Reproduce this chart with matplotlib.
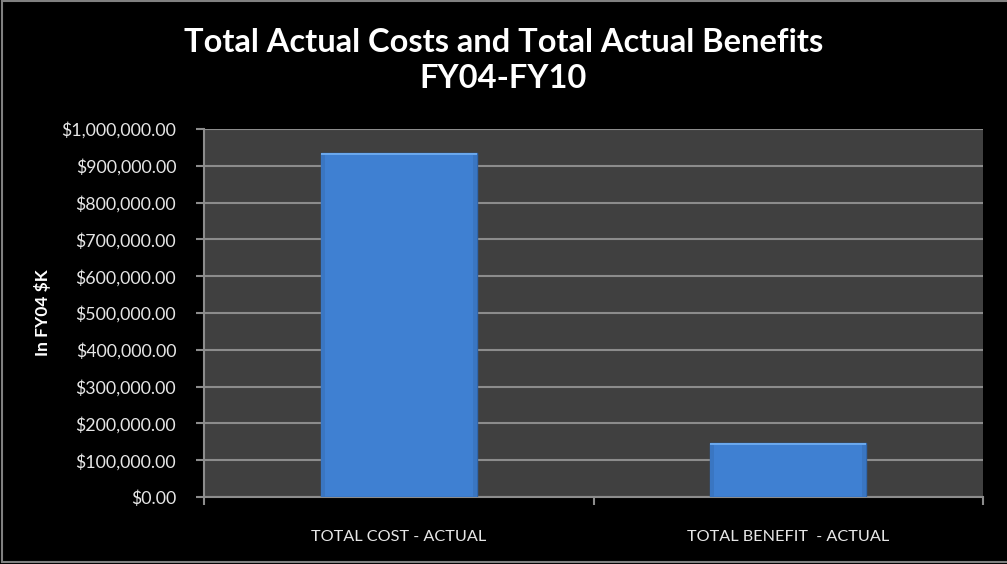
import matplotlib.pyplot as plt
from matplotlib.ticker import FuncFormatter, FixedLocator
from matplotlib.patches import Rectangle
from matplotlib.lines import Line2D

# Totals in FY04 dollars
categories = ["TOTAL COST - ACTUAL", "TOTAL BENEFIT  - ACTUAL"]
totals = [935000, 147000]

plt.rcParams['font.family'] = ['Lato', 'DejaVu Sans']

fig = plt.figure(figsize=(10.07, 5.64), dpi=100, facecolor='black')
ax = fig.add_axes([0.2026, 0.1188, 0.7736, 0.6525])
ax.set_facecolor('#404040')

x = range(len(categories))
bars = ax.bar(x, totals, width=0.4, color='#3f80d2', edgecolor='#2f66ad',
              linewidth=1.0, zorder=3)

# bevelled look: lighter rim along the top, slightly darker sides
for b in bars:
    ax.add_patch(Rectangle((b.get_x(), b.get_height() - 7000), b.get_width(), 7000,
                           facecolor='#6aa8ee', edgecolor='none', zorder=4))
    ax.add_patch(Rectangle((b.get_x(), 0), b.get_width() * 0.025, b.get_height() - 7000,
                           facecolor='#3a76c2', edgecolor='none', zorder=4))
    ax.add_patch(Rectangle((b.get_x() + b.get_width() * 0.975, 0), b.get_width() * 0.025,
                           b.get_height() - 7000, facecolor='#3a76c2', edgecolor='none',
                           zorder=4))

ax.set_xlim(-0.5, len(categories) - 0.5)
ax.set_ylim(0, 1000000)
ax.set_yticks(range(0, 1000001, 100000))
ax.yaxis.set_major_formatter(FuncFormatter(lambda v, p: f"${v:,.2f}"))
ax.grid(axis='y', color='#8c8c8c', linewidth=1.5, zorder=1)

ax.set_xticks(list(x))
ax.set_xticklabels(categories)
ax.xaxis.set_minor_locator(FixedLocator([i - 0.5 for i in range(len(categories) + 1)]))
ax.tick_params(axis='x', which='major', length=0, pad=24, labelsize=11.7, labelcolor='#e6e6e6')
ax.tick_params(axis='x', which='minor', length=6, color='#8c8c8c', width=1.5)
ax.tick_params(axis='y', length=6, color='#8c8c8c', width=1.5, pad=14,
               labelsize=12.8, labelcolor='#e6e6e6')

for side in ['top', 'right']:
    ax.spines[side].set_visible(False)
for side in ['left', 'bottom']:
    ax.spines[side].set_color('#8c8c8c')
    ax.spines[side].set_linewidth(1.5)

ax.set_ylabel("In FY04 $K", color='white', fontsize=12.5, fontweight='bold')
ax.yaxis.set_label_coords(-0.196, 0.5)

fig.text(0.5, 0.893, "Total Actual Costs and Total Actual Benefits\nFY04-FY10",
         ha='center', va='center', color='white', fontsize=23.5, fontweight='bold',
         linespacing=1.3)

# thin frame on the left, top and bottom of the figure
for xs, ys in [([0.002, 0.002], [0.003, 0.998]), ([0.002, 1.0], [0.998, 0.998]),
               ([0.002, 1.0], [0.003, 0.003])]:
    fig.lines.append(Line2D(xs, ys, transform=fig.transFigure, color='#808080',
                            linewidth=1.5))

fig.savefig("out.png", dpi=100, facecolor='black')
